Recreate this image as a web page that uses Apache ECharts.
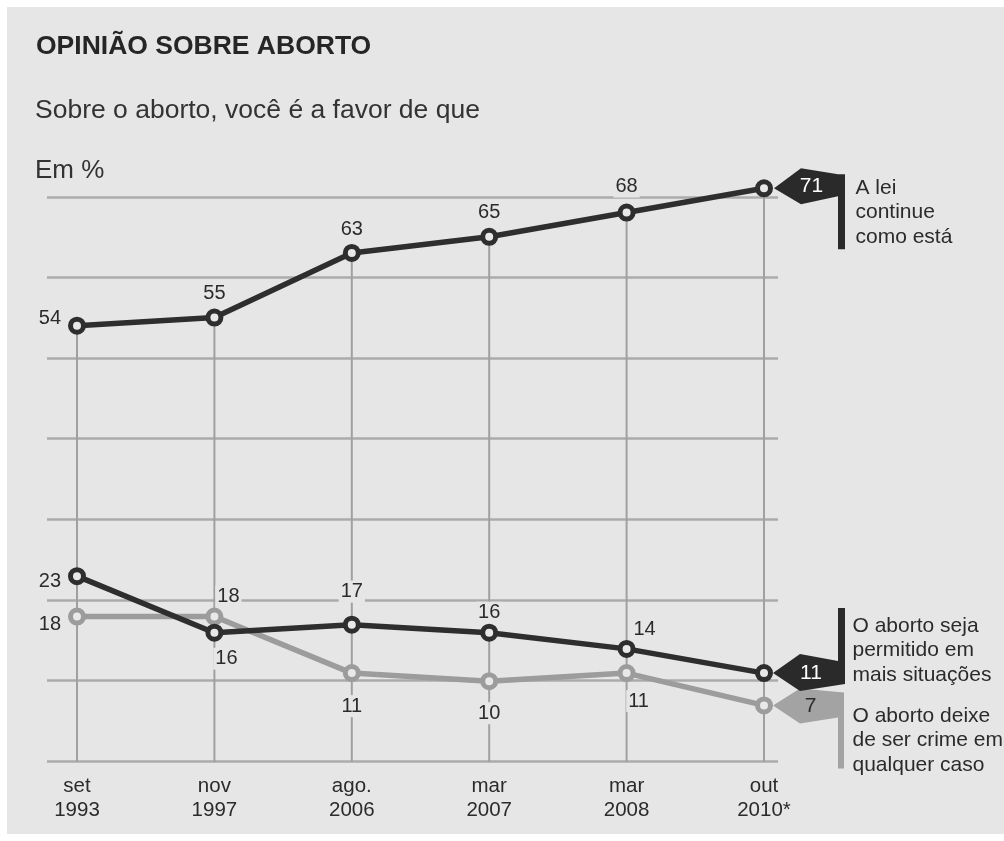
<!DOCTYPE html>
<html>
<head>
<meta charset="utf-8">
<script src="https://cdn.jsdelivr.net/npm/echarts@6/dist/echarts.min.js"></script>
<style>
html,body{margin:0;padding:0;background:#ffffff;}
#chart{width:1004px;height:841px;}
</style>
</head>
<body>
<div id="chart"></div>
<script>
// ---- data ----
const categories = ['set\n1993', 'nov\n1997', 'ago.\n2006', 'mar\n2007', 'mar\n2008', 'out\n2010*'];
const leiContinue = [54, 55, 63, 65, 68, 71];
const maisSituacoes = [23, 16, 17, 16, 14, 11];
const deixeCrime = [18, 18, 11, 10, 11, 7];
const seriesNames = ['A lei\ncontinue\ncomo está', 'O aborto seja\npermitido em\nmais situações', 'O aborto deixe\nde ser crime em\nqualquer caso'];
const yTicks = [0, 10, 20, 30, 40, 50, 60, 70];

const BG = '#e6e6e6';
const DARK = '#2e2e2e';
const LIGHT = '#9c9c9c';
const FONT = 'Liberation Sans, Arial, sans-serif';

const chart = echarts.init(document.getElementById('chart'));

function lbl(pos, extra) {
  return Object.assign({
    show: true, position: pos, color: '#2b2b2b', fontSize: 20, fontFamily: FONT,
    backgroundColor: BG, padding: [1, 2]
  }, extra || {});
}

// per-point label placement
const leiLabels = [
  lbl('left', {distance: 5, offset: [0, -7]}),
  lbl('top', {distance: 4}),
  lbl('top', {distance: 3}),
  lbl('top', {distance: 4}),
  lbl('top', {distance: 6}),
  {show: false}
];
const maisLabels = [
  lbl('left', {distance: 5, offset: [0, 5]}),
  lbl('bottom', {distance: 6, offset: [12, 0]}),
  lbl('top', {distance: 13}),
  lbl('top', {distance: 0}),
  lbl('top', {distance: -1, offset: [18, 0]}),
  {show: false}
];
const crimeLabels = [
  lbl('left', {distance: 5, offset: [0, 8]}),
  lbl('top', {distance: 0, offset: [14, 0]}),
  lbl('bottom', {distance: 13}),
  lbl('bottom', {distance: 12}),
  lbl('bottom', {distance: 8, offset: [12, 0]}),
  {show: false}
];

function withLabels(values, labels) {
  return values.map((v, i) => ({value: v, label: labels[i]}));
}

function flag(path, size, symOffset, value, series, labelOffset, bg, textColor, textPos) {
  return [
    {
      coord: [categories[categories.length - 1], value],
      symbol: path, symbolSize: size, symbolOffset: symOffset,
      itemStyle: {color: bg},
      label: {show: true, position: 'inside', offset: labelOffset, formatter: String(value),
              color: textColor, fontSize: 21, fontFamily: FONT}
    },
    {
      coord: [categories[categories.length - 1], value],
      symbol: 'circle', symbolSize: 1,
      itemStyle: {color: 'transparent'},
      label: {show: true, position: textPos, align: 'left', verticalAlign: 'top',
              formatter: series, color: '#2b2b2b', fontSize: 21, lineHeight: 24.5, fontFamily: FONT}
    }
  ];
}

const lastIdx = categories.length - 1;

const option = {
  animation: false,
  backgroundColor: '#ffffff',
  graphic: [{
    type: 'rect', z: -100, silent: true,
    shape: {x: 7, y: 7, width: 997, height: 827},
    style: {fill: BG}
  }],
  title: [
    {text: 'OPINIÃO SOBRE ABORTO', left: 36, top: 33, padding: 0,
     textStyle: {fontSize: 26.5, fontWeight: 'bold', color: '#262626', fontFamily: FONT}},
    {text: 'Sobre o aborto, você é a favor de que', left: 35, top: 97, padding: 0,
     textStyle: {fontSize: 26.5, fontWeight: 'normal', color: '#333333', fontFamily: FONT}},
    {text: 'Em %', left: 35, top: 158, padding: 0,
     textStyle: {fontSize: 26, fontWeight: 'normal', color: '#333333', fontFamily: FONT}}
  ],
  grid: [
    {left: 47, right: 226, top: 197, bottom: 80},
    {left: 77, right: 240, top: 156, bottom: 79}
  ],
  xAxis: [
    {gridIndex: 0, type: 'value', min: 0, max: 1, show: false},
    {gridIndex: 1, type: 'category', data: categories, boundaryGap: false,
     axisLine: {show: false}, axisTick: {show: false}, splitLine: {show: false},
     axisLabel: {color: '#2b2b2b', fontSize: 20.5, lineHeight: 24.5, margin: 12, fontFamily: FONT, interval: 0}}
  ],
  yAxis: [
    {gridIndex: 0, type: 'value', min: yTicks[0], max: yTicks[yTicks.length - 1], interval: 10,
     axisLine: {show: false}, axisTick: {show: false}, axisLabel: {show: false},
     splitLine: {show: true, lineStyle: {color: '#ababab', width: 2.5}}},
    {gridIndex: 1, type: 'value', min: 0, max: 75, show: false}
  ],
  series: [
    {
      type: 'bar', xAxisIndex: 1, yAxisIndex: 1, data: leiContinue,
      barWidth: 2, itemStyle: {color: '#a0a0a0'}, z: 1, silent: true
    },
    {
      name: 'deixe', type: 'line', xAxisIndex: 1, yAxisIndex: 1,
      data: withLabels(deixeCrime, crimeLabels),
      lineStyle: {color: LIGHT, width: 5.5},
      symbol: 'circle', symbolSize: 13,
      itemStyle: {color: '#e8e8e8', borderColor: LIGHT, borderWidth: 5},
      z: 3,
      markPoint: {
        data: flag('path://M9 0 L36 -17 L80 -13 L80 63 L74 63 L74 12 L36 18 Z', [71, 80], [44.5, 23],
                   deixeCrime[lastIdx], seriesNames[2], [2, -22], '#a3a3a3', '#2b2b2b', [89, -1])
      }
    },
    {
      name: 'mais', type: 'line', xAxisIndex: 1, yAxisIndex: 1,
      data: withLabels(maisSituacoes, maisLabels),
      lineStyle: {color: DARK, width: 5.5},
      symbol: 'circle', symbolSize: 13,
      itemStyle: {color: '#e8e8e8', borderColor: DARK, borderWidth: 5},
      z: 4,
      markPoint: {
        data: flag('path://M9 0 L36 -19 L74 -12 L74 -65 L81 -65 L81 11 L36 18 Z', [72, 83], [45, -23.5],
                   maisSituacoes[lastIdx], seriesNames[1], [2, 23.5], '#2a2a2a', '#ffffff', [89, -59])
      }
    },
    {
      name: 'lei', type: 'line', xAxisIndex: 1, yAxisIndex: 1,
      data: withLabels(leiContinue, leiLabels),
      lineStyle: {color: DARK, width: 5.5},
      symbol: 'circle', symbolSize: 13,
      itemStyle: {color: '#e8e8e8', borderColor: DARK, borderWidth: 5},
      z: 5,
      markPoint: {
        data: flag('path://M10 0 L37 -20 L74 -14 L81 -14 L81 61 L74 61 L74 8 L37 16 Z', [71, 81], [45.5, 20.5],
                   leiContinue[lastIdx], seriesNames[0], [2, -23], '#2a2a2a', '#ffffff', [92, -12])
      }
    }
  ]
};
chart.setOption(option);
</script>
</body>
</html>
